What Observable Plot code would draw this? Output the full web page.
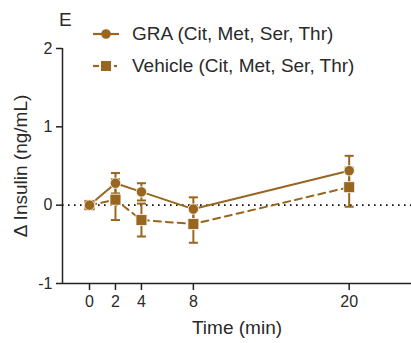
<!DOCTYPE html>
<html>
<head>
<meta charset="utf-8">
<script src="https://cdn.jsdelivr.net/npm/d3@7"></script>
<script src="https://cdn.jsdelivr.net/npm/@observablehq/plot@0.6"></script>
<style>
  body { margin: 0; background: #fff; }
  #wrap { position: relative; width: 411px; height: 343px; font-family: Arial, "Liberation Sans", sans-serif; }
  #legend { position: absolute; left: 0; top: 0; pointer-events: none; }
</style>
</head>
<body>
<div id="wrap"></div>
<script>
const times = [0, 2, 4, 8, 20];
const seriesNames = ["GRA (Cit, Met, Ser, Thr)", "Vehicle (Cit, Met, Ser, Thr)"];
const graMean = [0, 0.28, 0.17, -0.05, 0.44];
const graErr = [0, 0.13, 0.11, 0.15, 0.19];
const vehMean = [0, 0.07, -0.19, -0.24, 0.23];
const vehErr = [0, 0.26, 0.21, 0.24, 0.25];
const xTicks = [0, 2, 4, 8, 20];
const yTicks = [-1, 0, 1, 2];
const panelLetter = "E";
const yLabel = "Δ Insulin (ng/mL)";
const xLabel = "Time (min)";

const color = "#98661f";
const textColor = "#2a2a2a";
const gra = times.map((t, i) => ({t, v: graMean[i], e: graErr[i], s: seriesNames[0]}));
const veh = times.map((t, i) => ({t, v: vehMean[i], e: vehErr[i], s: seriesNames[1]}));
const xDomain = [-2.08, 24.8];
const capHalf = 0.35;
const font = "Arial, 'Liberation Sans', sans-serif";

const chart = Plot.plot({
  width: 411,
  height: 343,
  marginLeft: 62,
  marginRight: 0,
  marginTop: 48,
  marginBottom: 60,
  style: {fontFamily: font, fontSize: "16px", color: textColor},
  x: {domain: xDomain},
  y: {domain: [-1, 2]},
  marks: [
    Plot.ruleY([0], {stroke: "#111", strokeWidth: 1.6, strokeDasharray: "1.6,4.4"}),
    Plot.axisX({ticks: xTicks, tickSize: 7, tickPadding: 5, tickFormat: d => String(d), label: null, fontSize: 16, stroke: "#222", strokeWidth: 1.5}),
    Plot.axisX({ticks: [], label: xLabel, labelAnchor: "center", labelArrow: "none", labelOffset: 50, fontSize: 19}),
    Plot.axisY({ticks: yTicks, tickSize: 6, tickPadding: 4, tickFormat: d => String(d), label: null, fontSize: 16, stroke: "#222", strokeWidth: 1.5}),
    Plot.axisY({ticks: [], label: yLabel, labelAnchor: "center", labelArrow: "none", labelOffset: 49, fontSize: 19}),
    Plot.ruleY([-1], {stroke: "#222", strokeWidth: 1.5}),
    Plot.ruleX([xDomain[0]], {stroke: "#222", strokeWidth: 1.5}),
    // error bars
    Plot.ruleX(veh.filter(d => d.e > 0), {x: "t", y1: d => d.v - d.e, y2: d => d.v + d.e, stroke: color, strokeWidth: 2}),
    Plot.link(veh.filter(d => d.e > 0).flatMap(d => [{t: d.t, y: d.v - d.e}, {t: d.t, y: d.v + d.e}]), {x1: d => d.t - capHalf, x2: d => d.t + capHalf, y1: "y", y2: "y", stroke: color, strokeWidth: 2}),
    Plot.ruleX(gra.filter(d => d.e > 0), {x: "t", y1: d => d.v - d.e, y2: d => d.v + d.e, stroke: color, strokeWidth: 2}),
    Plot.link(gra.filter(d => d.e > 0).flatMap(d => [{t: d.t, y: d.v - d.e}, {t: d.t, y: d.v + d.e}]), {x1: d => d.t - capHalf, x2: d => d.t + capHalf, y1: "y", y2: "y", stroke: color, strokeWidth: 2}),
    // lines
    Plot.line(veh, {x: "t", y: "v", stroke: color, strokeWidth: 2, strokeDasharray: "7,5"}),
    Plot.line(gra, {x: "t", y: "v", stroke: color, strokeWidth: 2}),
    // markers
    Plot.dot(veh, {x: "t", y: "v", symbol: "square", r: 6.2, fill: color, stroke: "white", strokeWidth: 0.8}),
    Plot.dot(gra, {x: "t", y: "v", symbol: "circle", r: 5.2, fill: color, stroke: "white", strokeWidth: 0.8}),
  ]
});

const wrap = document.getElementById("wrap");
wrap.appendChild(chart);

// Legend + panel letter overlay
const ns = "http://www.w3.org/2000/svg";
const lg = document.createElementNS(ns, "svg");
lg.setAttribute("id", "legend");
lg.setAttribute("width", 411);
lg.setAttribute("height", 343);
lg.innerHTML = `
  <text x="59" y="26" font-size="19" fill="${textColor}" font-family="${font}">${panelLetter}</text>
  <line x1="93" y1="34" x2="119" y2="34" stroke="${color}" stroke-width="2.2"/>
  <circle cx="106" cy="34" r="4.8" fill="${color}"/>
  <text x="132" y="40" font-size="19" fill="${textColor}" font-family="${font}">${seriesNames[0]}</text>
  <line x1="93" y1="66" x2="99" y2="66" stroke="${color}" stroke-width="2.2"/>
  <rect x="101" y="61" width="10" height="10" fill="${color}"/>
  <line x1="114" y1="66" x2="117" y2="66" stroke="${color}" stroke-width="2.2"/>
  <text x="132" y="72" font-size="19" fill="${textColor}" font-family="${font}">${seriesNames[1]}</text>
`;
wrap.appendChild(lg);
</script>
</body>
</html>
